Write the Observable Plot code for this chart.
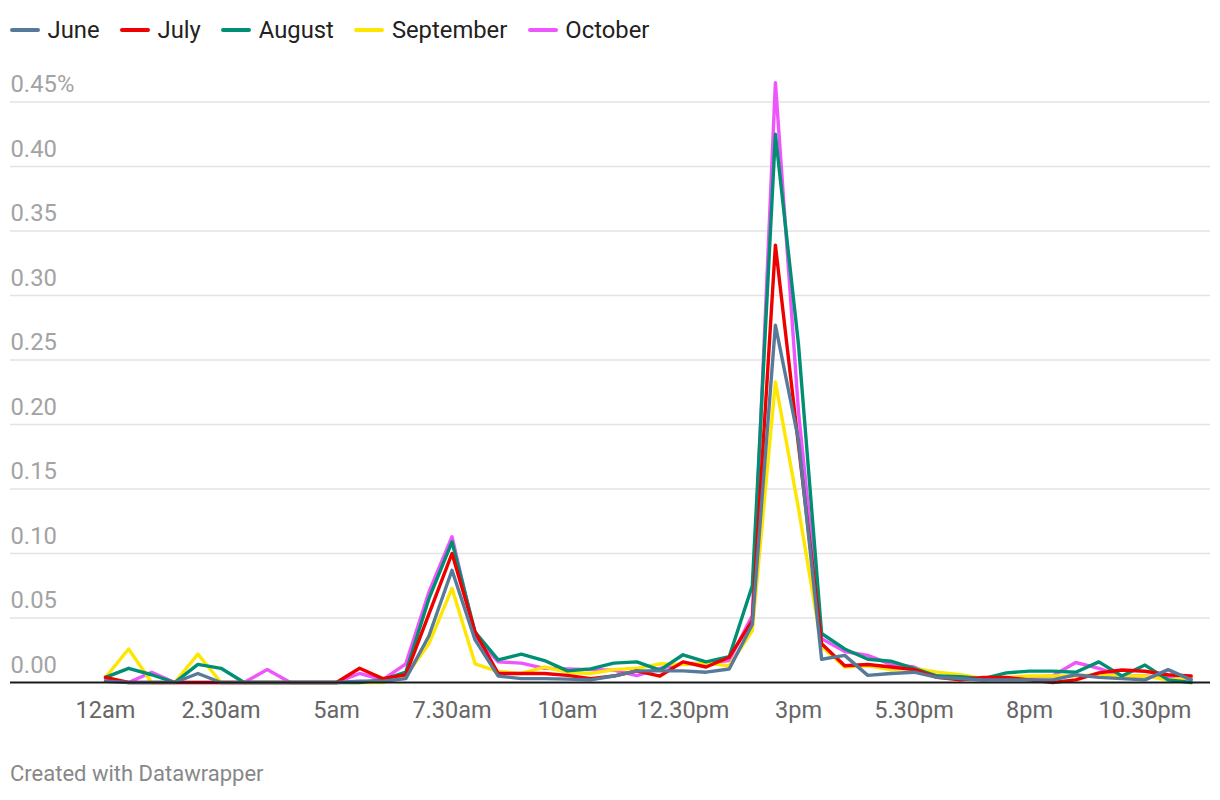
<!DOCTYPE html>
<html>
<head>
<meta charset="utf-8">
<script src="https://cdn.jsdelivr.net/npm/d3@7"></script>
<script src="https://cdn.jsdelivr.net/npm/@observablehq/plot@0.6"></script>
<style>
  body { margin: 0; background: #fff; font-family: Roboto, sans-serif; }
  #wrap { position: relative; width: 1220px; height: 800px; background: #fff; }
  #legend { position: absolute; left: 10px; top: 16px; display: flex; align-items: center; font-size: 23.8px; color: #222; }
  .item { display: flex; align-items: center; margin-right: 20.5px; }
  .sw { width: 30px; height: 4px; border-radius: 2px; margin-right: 7.5px; }
  #chart { position: absolute; left: 0; top: 60px; }
  #credit { position: absolute; left: 10px; top: 761px; font-size: 22px; color: #888; }
</style>
</head>
<body>
<div id="wrap">
  <div id="legend"></div>
  <div id="chart"></div>
  <div id="credit">Created with Datawrapper</div>
</div>
<script>
const months = ["June", "July", "August", "September", "October"];
const colors = ["#587a9a", "#ee0000", "#008f72", "#ffe600", "#ef55fc"];

// share of activity per half-hour slot (12am ... 11.30pm)
const june = [0.001,0,0,0,0.007,0,0,0,0,0,0,0.001,0.001,0.003,0.036,0.087,0.033,0.005,0.003,0.003,
  0.0026,0.002,0.005,0.009,0.009,0.009,0.008,0.0105,0.045,0.277,0.188,0.018,0.021,0.0055,0.007,0.008,
  0.004,0.003,0.002,0.002,0.002,0.002,0.006,0.004,0.003,0.002,0.010,0.002];
const july = [0.004,0,0,0,0,0,0,0,0,0,0,0.011,0.003,0.006,0.053,0.100,0.039,0.007,0.007,0.007,
  0.0055,0.003,0.005,0.009,0.005,0.016,0.012,0.0196,0.048,0.339,0.184,0.030,0.013,0.014,0.012,0.010,
  0.004,0.002,0.004,0.004,0.002,0,0.002,0.0075,0.0097,0.0087,0.006,0.005];
const august = [0.004,0.011,0.006,0,0.014,0.011,0,0,0,0,0,0,0.002,0.008,0.065,0.109,0.039,0.0176,0.022,0.017,
  0.009,0.0106,0.015,0.016,0.0096,0.0215,0.016,0.020,0.075,0.425,0.262,0.038,0.026,0.018,0.0165,0.011,
  0.005,0.0045,0.003,0.0075,0.0088,0.0088,0.008,0.016,0.005,0.0135,0.002,0];
const september = [0.004,0.026,0,0,0.022,0,0,0,0,0,0,0,0,0.005,0.030,0.073,0.0145,0.0085,0.007,0.012,
  0.008,0.007,0.010,0.011,0.0145,0.014,0.015,0.013,0.040,0.233,0.135,0.028,0.012,0.013,0.010,0.011,
  0.008,0.006,0.003,0.004,0.005,0.005,0.005,0.006,0.005,0.005,0.002,0.004];
const october = [0.002,0,0.008,0,0,0,0,0.010,0,0,0,0.007,0.002,0.0145,0.070,0.113,0.036,0.016,0.015,0.011,
  0.0106,0.010,0.0096,0.0054,0.011,0.0145,0.015,0.017,0.052,0.465,0.21,0.034,0.024,0.021,0.014,0.012,
  0.005,0.003,0.002,0.003,0.004,0.005,0.0155,0.011,0.005,0.005,0.004,0.003];

const xTickSlots = [0, 5, 10, 15, 20, 25, 30, 35, 40, 45];
const xTickLabels = ["12am", "2.30am", "5am", "7.30am", "10am", "12.30pm", "3pm", "5.30pm", "8pm", "10.30pm"];
const yTicks = [0, 0.05, 0.10, 0.15, 0.20, 0.25, 0.30, 0.35, 0.40, 0.45];
const yTickLabels = ["0.00", "0.05", "0.10", "0.15", "0.20", "0.25", "0.30", "0.35", "0.40", "0.45%"];

const series = [june, july, august, september, october];
const rows = [];
for (let k = series.length - 1; k >= 0; k--) {
  series[k].forEach((v, i) => rows.push({slot: i, value: v, month: months[k]}));
}

// legend
const legend = document.getElementById("legend");
months.forEach((m, k) => {
  const it = document.createElement("div");
  it.className = "item";
  const sw = document.createElement("div");
  sw.className = "sw";
  sw.style.background = colors[k];
  const tx = document.createElement("span");
  tx.textContent = m;
  it.appendChild(sw); it.appendChild(tx);
  legend.appendChild(it);
});

const gridTicks = yTicks.filter(d => d > 0);
const chart = Plot.plot({
  width: 1220,
  height: 680,
  marginTop: 41.5,
  marginBottom: 58,
  marginLeft: 105,
  marginRight: 29.3,
  style: {fontFamily: "Roboto, sans-serif", background: "#fff", overflow: "visible"},
  x: {domain: [0, 47], axis: null},
  y: {domain: [0, 0.45], axis: null},
  color: {domain: months, range: colors},
  marks: [
    Plot.ruleY(gridTicks, {y: d => d, stroke: "#e3e3e3", strokeWidth: 1.5, insetLeft: -95, insetRight: -19.3}),
    Plot.text(yTicks, {
      y: d => d, text: (d, i) => yTickLabels[i], frameAnchor: "left", dx: -95, dy: -10,
      textAnchor: "start", lineAnchor: "bottom", fontSize: 23.8, fill: "#a3a3a3"
    }),
    Plot.text(xTickSlots, {
      x: d => d, text: (d, i) => xTickLabels[i], frameAnchor: "bottom", dy: 35,
      lineAnchor: "bottom", fontSize: 23.5, fill: "#666"
    }),
    Plot.line(rows, {
      x: "slot", y: "value", z: "month", stroke: "month",
      strokeWidth: 3.4, strokeLinejoin: "round", strokeLinecap: "round"
    }),
    Plot.ruleY([0], {stroke: "#1a1a1a", strokeWidth: 2, insetLeft: -95, insetRight: -19.3})
  ]
});
document.getElementById("chart").appendChild(chart);
</script>
</body>
</html>
